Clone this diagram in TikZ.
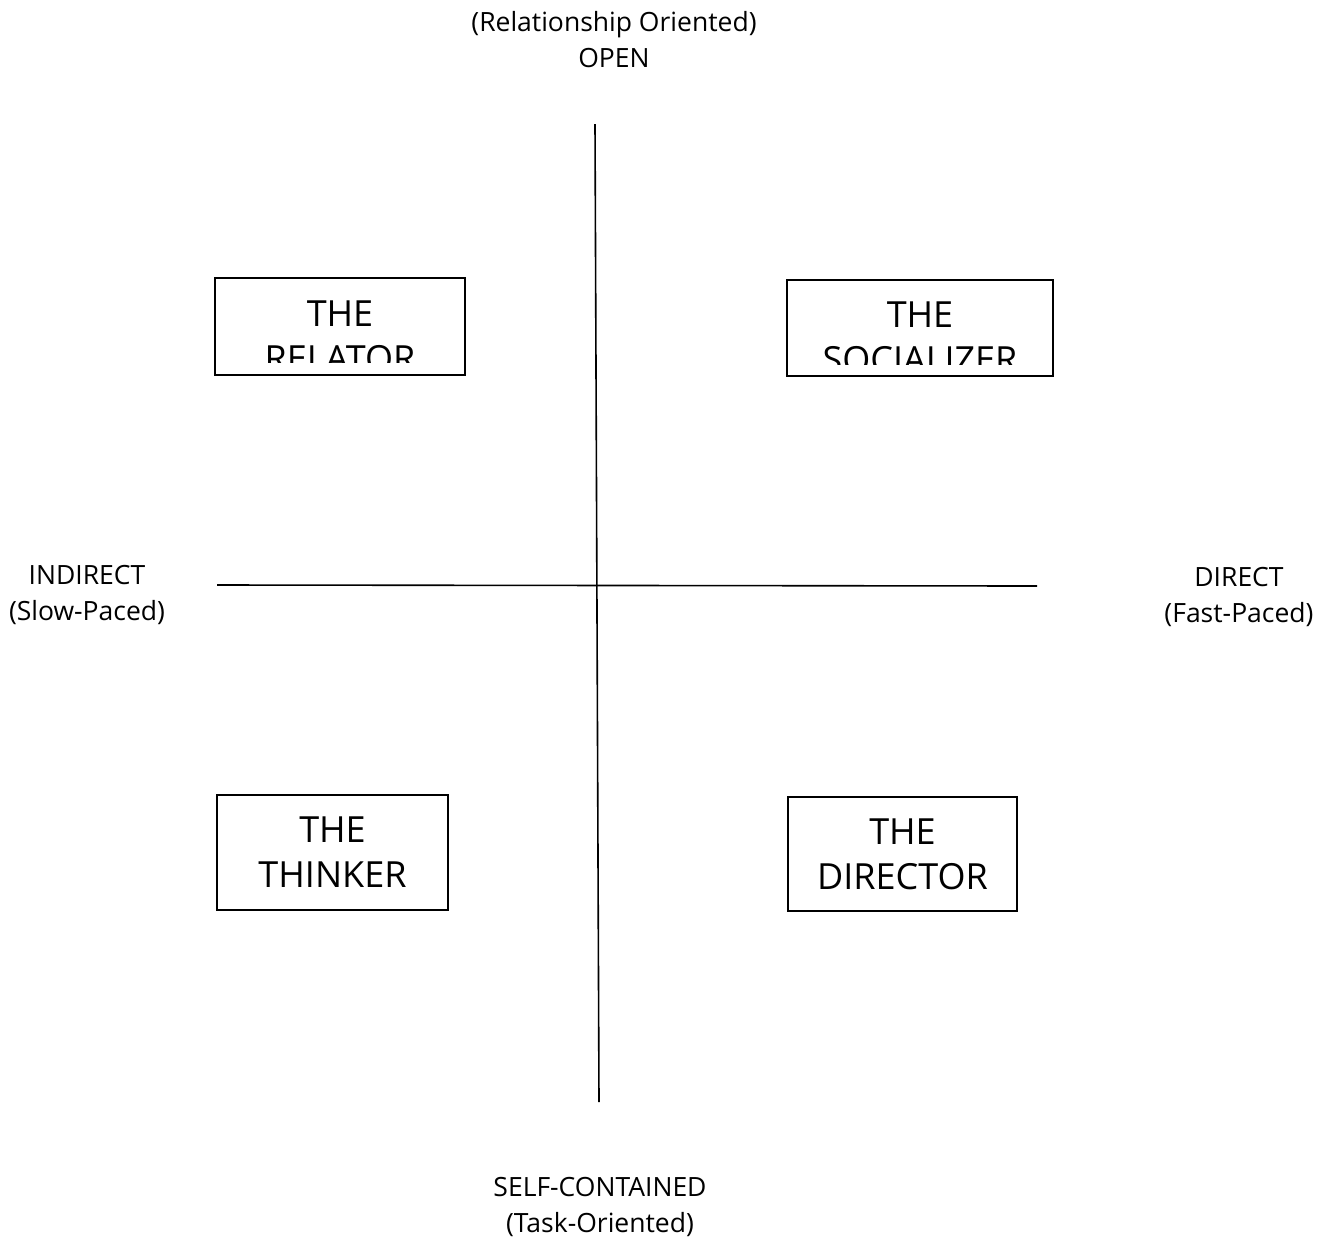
\documentclass[tikz,border=0pt]{standalone}
\usepackage{fontspec}
\setmainfont{Open Sans}
\begin{document}
\begin{tikzpicture}[x=1pt,y=-1pt,
  quad/.style={draw=black, line width=1.3pt, inner sep=0pt},
  big/.style={font=\fontsize{36}{45}\selectfont, align=center, inner sep=0pt},
  lbl/.style={font=\fontsize{26.5}{36}\selectfont, align=center, inner sep=0pt},
  axis/.style={line width=1.6pt}]
\useasboundingbox[fill=white] (0,0) rectangle (1328,1243);
% axes
\coordinate (vtop) at (595,124);
\coordinate (vbot) at (599,1102);
\coordinate (hl) at (217,585);
\coordinate (hr) at (1037,586);
\draw[axis] (vtop) -- (vbot);
\draw[axis] (hl) -- (hr);
% axis labels
\node[lbl] (open) at (614,40) {(Relationship Oriented)\\OPEN};
\node[lbl] (self) at (600,1207) {SELF-CONTAINED\\(Task-Oriented)};
\node[lbl] (indirect) at (87,595) {INDIRECT\\(Slow-Paced)};
\node[lbl] (direct) at (1239,597) {DIRECT\\(Fast-Paced)};
% top boxes with clipped text
\node[quad, minimum width=250pt, minimum height=97pt] (relator) at (340,326.5) {};
\node[quad, minimum width=266pt, minimum height=96pt] (social) at (920,328) {};
\begin{scope}
\clip (216,279) rectangle (464,362);
\node[big] (relatortxt) at (340,336) {THE\\RELATOR};
\end{scope}
\begin{scope}
\clip (788,281) rectangle (1052,364);
\node[big] (socialtxt) at (920,337) {THE\\SOCIALIZER};
\end{scope}
% bottom boxes
\node[quad, minimum width=231pt, minimum height=115pt, big] (thinker) at (332.5,852.5) {THE\\THINKER};
\node[quad, minimum width=229pt, minimum height=114pt, big] (director) at (902.5,854) {THE\\DIRECTOR};
\end{tikzpicture}
\end{document}
